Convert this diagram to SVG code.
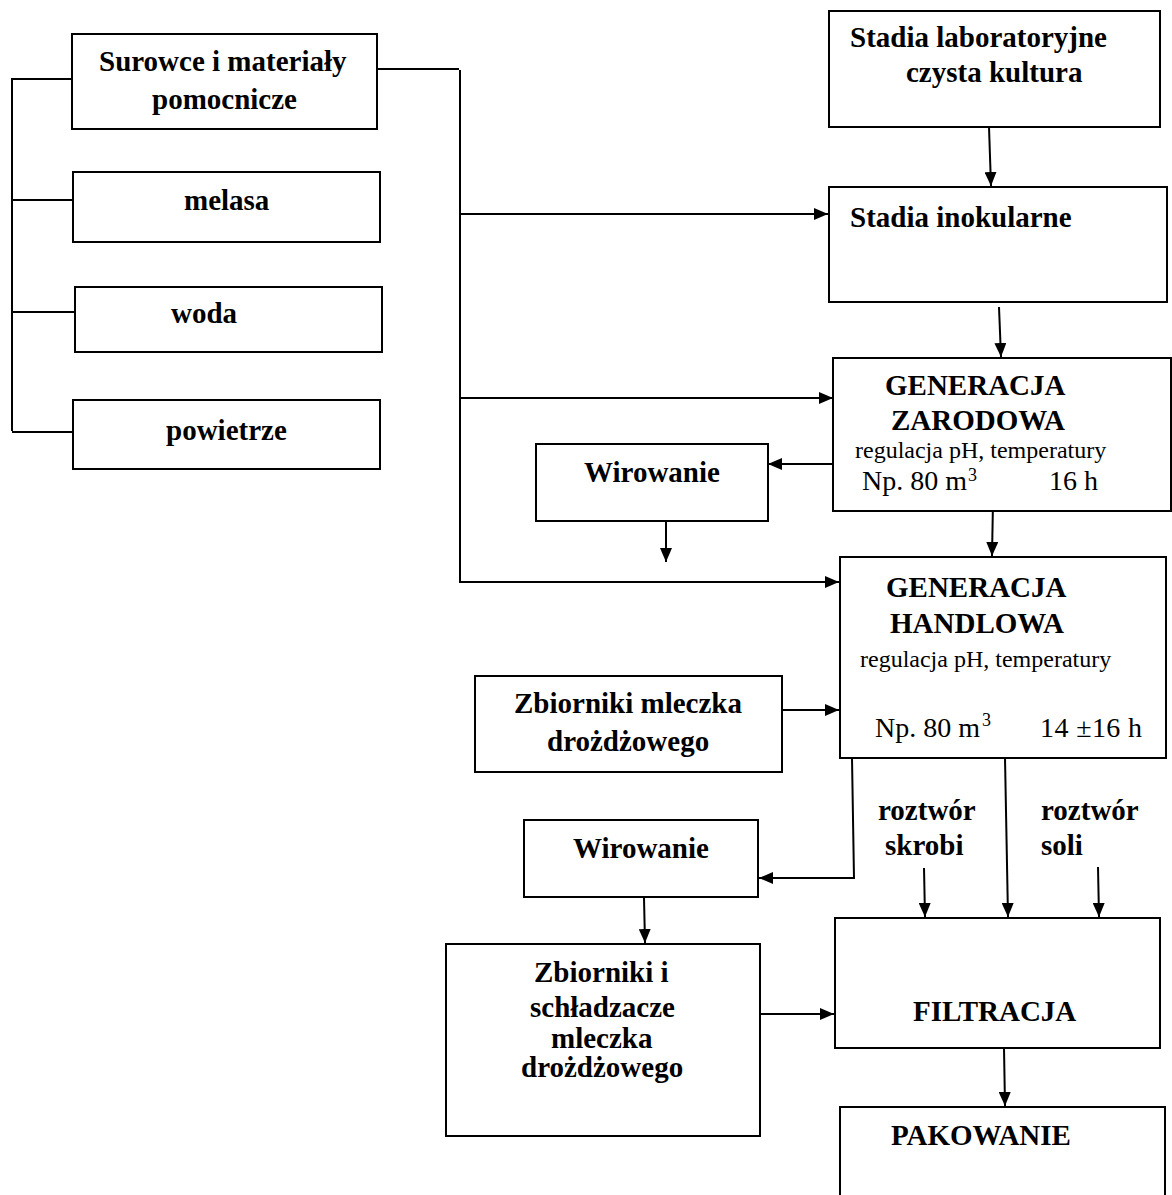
<svg xmlns="http://www.w3.org/2000/svg" width="1172" height="1195" viewBox="0 0 1172 1195">
<defs>
<style>
.box{fill:#fff;stroke:#000;stroke-width:2}
.ln{fill:none;stroke:#000;stroke-width:2}
.ar{fill:none;stroke:#000;stroke-width:2;marker-end:url(#ah)}
.b{font-family:"Liberation Serif","Times New Roman",serif;font-weight:bold;font-size:29px;fill:#000}
.r{font-family:"Liberation Serif","Times New Roman",serif;font-size:24px;fill:#000}
.m{font-family:"Liberation Serif","Times New Roman",serif;font-size:28px;fill:#000}
.s{font-family:"Liberation Serif","Times New Roman",serif;font-size:18px;fill:#000}
</style>
<marker id="ah" markerUnits="userSpaceOnUse" markerWidth="14" markerHeight="12" refX="14" refY="6" orient="auto">
<path d="M0,0 L14,6 L0,12 z" fill="#000"/>
</marker>
</defs>
<rect width="1172" height="1195" fill="#fff"/>
<g id="connectors">
<polyline class="ln" points="72,79 12,79 12,431"/>
<line class="ln" x1="12" y1="200" x2="73" y2="200"/>
<line class="ln" x1="12" y1="312" x2="75" y2="312"/>
<line class="ln" x1="12" y1="432" x2="73" y2="432"/>
<line class="ln" x1="377" y1="69" x2="459" y2="69"/>
<line class="ln" x1="460" y1="70" x2="460" y2="583"/>
<line class="ar" x1="460" y1="214" x2="828" y2="214"/>
<line class="ar" x1="460" y1="398" x2="833" y2="398"/>
<line class="ar" x1="460" y1="582" x2="839" y2="582"/>
<line class="ar" x1="989" y1="127" x2="991" y2="186"/>
<line class="ar" x1="999" y1="307" x2="1001" y2="357"/>
<line class="ar" x1="833" y1="464" x2="768" y2="464"/>
<line class="ar" x1="666" y1="522" x2="666" y2="562"/>
<line class="ar" x1="993" y1="502" x2="992" y2="556"/>
<line class="ar" x1="782" y1="710" x2="839" y2="710"/>
<polyline class="ar" points="852,758 854,878 759,878"/>
<line class="ar" x1="1005" y1="758" x2="1008" y2="917"/>
<line class="ar" x1="924" y1="868" x2="925" y2="917"/>
<line class="ar" x1="1098" y1="867" x2="1099" y2="917"/>
<line class="ar" x1="644" y1="898" x2="645" y2="943"/>
<line class="ar" x1="760" y1="1014" x2="834" y2="1014"/>
<line class="ar" x1="1004" y1="1048" x2="1005" y2="1106"/>
</g>
<g id="surowce">
<rect class="box" x="72" y="34" width="305" height="95"/>
<text class="b" x="99" y="71">Surowce i materiały</text>
<text class="b" x="152" y="109">pomocnicze</text>
</g>
<g id="melasa">
<rect class="box" x="73" y="172" width="307" height="70"/>
<text class="b" x="184" y="210">melasa</text>
</g>
<g id="woda">
<rect class="box" x="75" y="287" width="307" height="65"/>
<text class="b" x="171" y="323">woda</text>
</g>
<g id="powietrze">
<rect class="box" x="73" y="400" width="307" height="69"/>
<text class="b" x="166" y="440">powietrze</text>
</g>
<g id="stadia-lab">
<rect class="box" x="829" y="11" width="331" height="116"/>
<text class="b" x="850" y="47">Stadia laboratoryjne</text>
<text class="b" x="906" y="82">czysta kultura</text>
</g>
<g id="stadia-inok">
<rect class="box" x="829" y="187" width="338" height="115"/>
<text class="b" x="850" y="227">Stadia inokularne</text>
</g>
<g id="gen-zarodowa">
<rect class="box" x="833" y="358" width="338" height="153"/>
<text class="b" x="885" y="395">GENERACJA</text>
<text class="b" x="891" y="430">ZARODOWA</text>
<text class="r" x="855" y="458">regulacja pH, temperatury</text>
<text class="m" x="862" y="490">Np. 80 m</text>
<text class="s" x="968" y="481">3</text>
<text class="m" x="1049" y="490">16 h</text>
</g>
<g id="wirowanie1">
<rect class="box" x="536" y="444" width="232" height="77"/>
<text class="b" x="584" y="482">Wirowanie</text>
</g>
<g id="gen-handlowa">
<rect class="box" x="840" y="557" width="326" height="201"/>
<text class="b" x="886" y="597">GENERACJA</text>
<text class="b" x="890" y="633">HANDLOWA</text>
<text class="r" x="860" y="667">regulacja pH, temperatury</text>
<text class="m" x="875" y="737">Np. 80 m</text>
<text class="s" x="982" y="726">3</text>
<text class="m" x="1040" y="737" textLength="102" lengthAdjust="spacing">14 ±16 h</text>
</g>
<g id="zbiorniki-mleczka">
<rect class="box" x="475" y="676" width="307" height="96"/>
<text class="b" x="514" y="713">Zbiorniki mleczka</text>
<text class="b" x="547" y="751">drożdżowego</text>
</g>
<g id="wirowanie2">
<rect class="box" x="524" y="820" width="234" height="77"/>
<text class="b" x="573" y="858">Wirowanie</text>
</g>
<g id="roztwor-skrobi">
<text class="b" x="878" y="820">roztwór</text>
<text class="b" x="885" y="855">skrobi</text>
</g>
<g id="roztwor-soli">
<text class="b" x="1041" y="820">roztwór</text>
<text class="b" x="1041" y="855">soli</text>
</g>
<g id="zbiorniki-schladzacze">
<rect class="box" x="446" y="944" width="314" height="192"/>
<text class="b" x="534" y="982">Zbiorniki i</text>
<text class="b" x="530" y="1017">schładzacze</text>
<text class="b" x="551" y="1048">mleczka</text>
<text class="b" x="521" y="1077">drożdżowego</text>
</g>
<g id="filtracja">
<rect class="box" x="835" y="918" width="325" height="130"/>
<text class="b" x="913" y="1021">FILTRACJA</text>
</g>
<g id="pakowanie">
<rect class="box" x="840" y="1107" width="325" height="110"/>
<text class="b" x="891" y="1145">PAKOWANIE</text>
</g>
</svg>
